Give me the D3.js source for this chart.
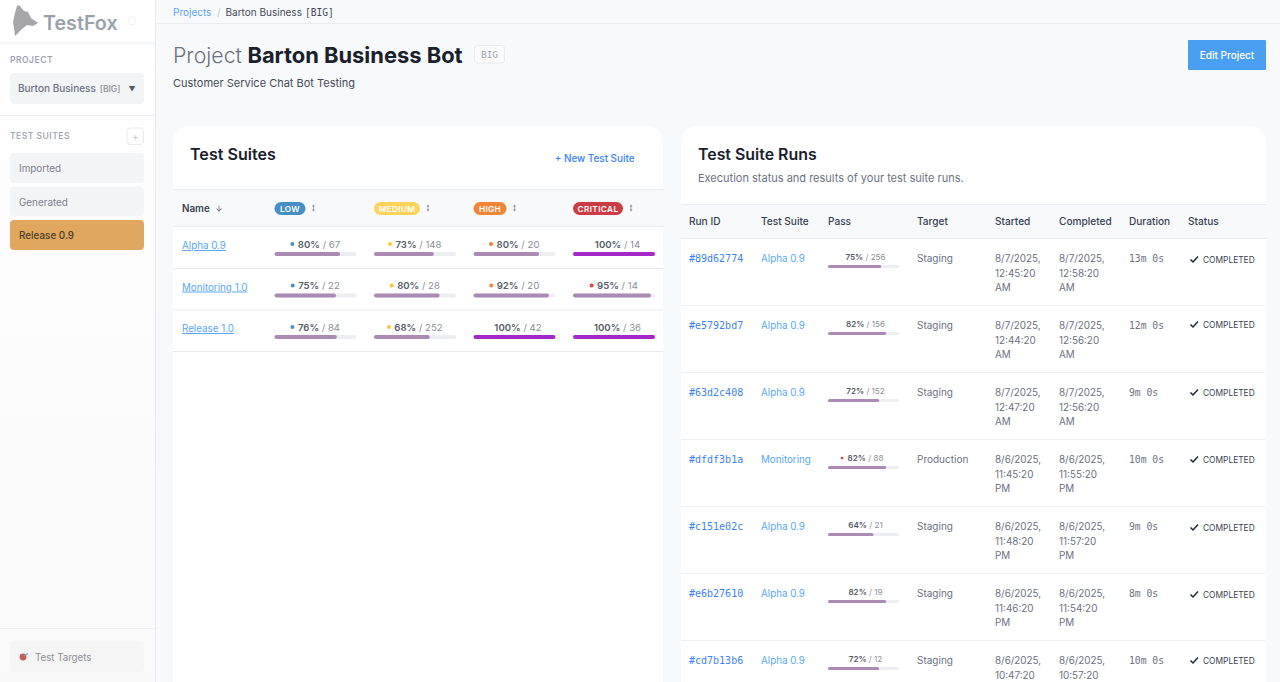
<!DOCTYPE html>
<html>
<head>
<meta charset="utf-8">
<script src="https://cdn.jsdelivr.net/npm/d3@7"></script>
<style>
html, body { margin: 0; padding: 0; background: #f8f9fb; overflow: hidden; }
svg { display: block; font-family: Inter, "Noto Sans", sans-serif; }
</style>
</head>
<body>
<svg width="1280" height="682"></svg>
<script>
// *** DATA ***
const sidebarSuites = ["Imported", "Generated", "Release 0.9"];
const severities = ["LOW", "MEDIUM", "HIGH", "CRITICAL"];
const suiteNames = ["Alpha 0.9", "Monitoring 1.0", "Release 1.0"];
const suitePass = [
    [80, 73, 80, 100],
    [75, 80, 92, 95],
    [76, 68, 100, 100]
];
const suiteTotals = [
    [67, 148, 20, 14],
    [22, 28, 20, 14],
    [84, 252, 42, 36]
];
const runHeaders = ["Run ID", "Test Suite", "Pass", "Target", "Started", "Completed", "Duration", "Status"];
const runIds = ["#89d62774", "#e5792bd7", "#63d2c408", "#dfdf3b1a", "#c151e02c", "#e6b27610", "#cd7b13b6"];
const runSuites = ["Alpha 0.9", "Alpha 0.9", "Alpha 0.9", "Monitoring", "Alpha 0.9", "Alpha 0.9", "Alpha 0.9"];
const runPass = [75, 82, 72, 82, 64, 82, 72];
const runTotals = [256, 156, 152, 88, 21, 19, 12];
const runTargets = ["Staging", "Staging", "Staging", "Production", "Staging", "Staging", "Staging"];
const runDates = ["8/7/2025,", "8/7/2025,", "8/7/2025,", "8/6/2025,", "8/6/2025,", "8/6/2025,", "8/6/2025,"];
const runStarted = ["12:45:20", "12:44:20", "12:47:20", "11:45:20", "11:48:20", "11:46:20", "10:47:20"];
const runCompleted = ["12:58:20", "12:56:20", "12:56:20", "11:55:20", "11:57:20", "11:54:20", "10:57:20"];
const runMeridiem = ["AM", "AM", "AM", "PM", "PM", "PM", "PM"];
const runDurations = ["13m 0s", "12m 0s", "9m 0s", "10m 0s", "9m 0s", "8m 0s", "10m 0s"];

// *** STYLE ***
const badgeColor = d3.scaleOrdinal(severities, ["#4790c4", "#fdd35c", "#f08536", "#cc3b44"]);
const dotColor = d3.scaleOrdinal(severities, ["#4790c4", "#fbc53c", "#f08536", "#e04848"]);
const blue = "#5aa7f5", linkBlue = "#3b82f6", ink = "#1a202c", grey = "#6b7280", line = "#e9ebef";
const sans = 'Inter, "Noto Sans", sans-serif', mono = '"DejaVu Sans Mono", monospace';
const statusNudge = [0, -2, -1, -1, 0, 0, -1]; // status cell sits a bit uneven per row

const svg = d3.select("svg");
const defs = svg.append("defs");
const fade = defs.append("linearGradient").attr("id", "fade").attr("x1", 0).attr("x2", 0).attr("y1", 0).attr("y2", 1);
fade.append("stop").attr("offset", 0).attr("stop-color", "#ffffff");
fade.append("stop").attr("offset", 1).attr("stop-color", "#f9f9fa");

function txt(parent, x, y, s, size, fill, opts = {}) {
    return parent.append("text")
        .attr("x", x).attr("y", y)
        .attr("font-size", size).attr("fill", fill)
        .attr("font-weight", opts.weight || 400)
        .attr("font-family", opts.family || sans)
        .attr("letter-spacing", opts.spacing || 0)
        .attr("text-anchor", opts.anchor || "start")
        .attr("text-decoration", opts.decoration || null)
        .text(s);
}

function rect(parent, x, y, w, h, r, fill, stroke) {
    return parent.append("rect")
        .attr("x", x).attr("y", y).attr("width", w).attr("height", h)
        .attr("rx", r).attr("fill", fill).attr("stroke", stroke || "none");
}

function hline(parent, x1, x2, y, color) {
    parent.append("line").attr("x1", x1).attr("x2", x2).attr("y1", y).attr("y2", y)
        .attr("stroke", color || line).attr("stroke-width", 1);
}

// small double headed sort arrow
function sortIcon(parent, x, y) {
    parent.append("path")
        .attr("d", `M${x} ${y - 3.5} l-1.6 2 h3.2 Z M${x} ${y + 3.5} l-1.6 -2 h3.2 Z M${x - 0.4} ${y - 1.5} h0.8 v3 h-0.8 Z`)
        .attr("fill", "#8b919b");
}

// pass cell: centred "80% / 67" label with optional dot, and progress bar under it
function passCell(parent, x0, y, w, pass, total, dot, size, barH, labelY, labelDx) {
    const scale = d3.scaleLinear().domain([0, 100]).range([0, w]);
    const g = parent.append("g");
    const cx = x0 + w / 2 + labelDx;
    const label = g.append("text")
        .attr("x", cx).attr("y", y + labelY)
        .attr("text-anchor", "middle").attr("font-size", size);
    label.append("tspan").attr("font-weight", 600).attr("fill", "#555b66").text(pass + "%");
    label.append("tspan").attr("fill", "#8a8f98").text(" / " + total);
    if (dot) {
        const len = label.node().getComputedTextLength();
        g.append("circle")
            .attr("cx", cx - len / 2 - 5.5)
            .attr("cy", y + labelY - size * 0.37)
            .attr("r", size > 9 ? 2 : 1.3).attr("fill", dot);
    }
    rect(g, x0, y, w, barH, barH / 2, "#eceef2");
    rect(g, x0, y, scale(pass), barH, barH / 2, pass === 100 ? "#a428c8" : "#ab8bb3");
}

// *** SIDEBAR ***
const side = svg.append("g");
rect(side, 0, 0, 155, 682, 0, "url(#fade)");
side.append("line").attr("x1", 155.5).attr("x2", 155.5).attr("y1", 0).attr("y2", 682).attr("stroke", "#e8eaee");
side.append("path")
    .attr("d", "M17 6 L19 5 L24 11 L28 12 L31 18 L38 23 L33 26 L27 25 L22 29 L15 36 L14 28 L13 22 L15 13 Z")
    .attr("fill", "#a6a6a8");
txt(side, 43, 29.5, "TestFox", 19.7, "#9aa1ab", { weight: 600 });
rect(side, 129, 17, 6, 8, 2, "none", "#f0f1f3");
hline(side, 0, 155, 43, "#eef0f2");
txt(side, 10, 63, "PROJECT", 8.5, "#9ca3af", { weight: 600, spacing: 0.5 });
rect(side, 10, 73, 134, 31, 4, "#f3f4f6");
const proj = txt(side, 18, 91.5, "Burton Business", 10, "#6b7280", { weight: 500 });
proj.append("tspan").attr("dx", 4).attr("font-size", 8.5).attr("fill", "#8a8f98").text("[BIG]");
txt(side, 132, 91.5, "▼", 7, "#555b66", { anchor: "middle" });
hline(side, 0, 155, 115.5, "#eceef0");
txt(side, 10, 139, "TEST SUITES", 8.5, "#a5abb5", { weight: 600, spacing: 0.5 });
rect(side, 127, 128, 16.5, 16.5, 3, "#ffffff", "#e8eaee");
txt(side, 135.3, 140.5, "+", 11, "#c9ccd2", { anchor: "middle" });
const sideY = d3.scalePoint().domain(sidebarSuites).range([153, 220]);
sidebarSuites.forEach((s, i) => {
    const active = i === sidebarSuites.length - 1;
    rect(side, 10, sideY(s), 134, 30, 4, active ? "#e1a75e" : "#f3f4f6");
    txt(side, 19, sideY(s) + 19, s, 9.9, active ? "#4a3d2a" : "#7b818c", { weight: active ? 500 : 400 });
});
hline(side, 0, 155, 628.5, "#eef0f2");
rect(side, 10, 641, 134, 31, 4, "#f5f5f6");
side.append("circle").attr("cx", 23).attr("cy", 657).attr("r", 3.4).attr("fill", "#c65a5a");
side.append("line").attr("x1", 24).attr("y1", 656).attr("x2", 28).attr("y2", 653.5).attr("stroke", "#6fa8b5").attr("stroke-width", 1.2);
txt(side, 35, 660.5, "Test Targets", 9.7, "#8f8f94", { weight: 400 });

// *** TOP BAR + TITLE ***
const header = svg.append("g");
rect(header, 156, 0, 1124, 23, 0, "#f8f9fb");
hline(header, 156, 1280, 23.5, "#e9ebef");
txt(header, 173, 15.5, "Projects", 10, blue);
txt(header, 217, 15.5, "/", 10, "#c4c8cf");
const crumb = txt(header, 225.5, 15.5, "Barton Business", 10, "#444b57", { weight: 400 });
crumb.append("tspan").attr("dx", 3).attr("font-family", mono).attr("font-size", 9.6).text("[BIG]");

const pageTitle = txt(header, 173, 63, "Project", 21.3, "#6b7280", { weight: 300 });
pageTitle.append("tspan").attr("dx", 5.5).attr("font-size", 21.9).attr("font-weight", 700).attr("fill", ink).text("Barton Business Bot");
rect(header, 474.5, 45.5, 30, 17.5, 3, "#fbfbfc", "#e9ebef");
txt(header, 489.5, 57.5, "BIG", 9.5, "#9ca3af", { family: mono, anchor: "middle" });
txt(header, 173, 87, "Customer Service Chat Bot Testing", 11, "#444b57");
rect(header, 1188, 40, 78, 30, 1, "#4a9ff2");
txt(header, 1227, 59, "Edit Project", 10, "#ffffff", { weight: 500, anchor: "middle" });

// *** TEST SUITES CARD ***
const leftCard = svg.append("g");
rect(leftCard, 173, 126, 490, 600, 16, "#ffffff");
txt(leftCard, 190, 159.5, "Test Suites", 16.1, ink, { weight: 600 });
txt(leftCard, 634.5, 161.5, "+ New Test Suite", 9.9, linkBlue, { weight: 500, anchor: "end" });
rect(leftCard, 173, 190, 490, 36.5, 0, "#f8f9fb");
hline(leftCard, 173, 663, 189.5);
hline(leftCard, 173, 663, 226.5);
txt(leftCard, 182, 212, "Name", 9.8, "#374151", { weight: 600 });
leftCard.append("path")
    .attr("d", "M218.6 205.5 h0.9 v4.5 l1.7 -1.7 l0.6 0.6 l-2.75 2.75 l-2.75 -2.75 l0.6 -0.6 l1.7 1.7 Z")
    .attr("fill", "#7b818c");

const colX = d3.scalePoint().domain(severities).range([274.5, 573]);
const rowY = d3.scalePoint().domain(suiteNames).range([227, 310]);
const badgeW = d3.scaleOrdinal(severities, [31, 46, 33, 50]);
severities.forEach(s => {
    const color = badgeColor(s);
    rect(leftCard, colX(s), 202, badgeW(s), 13, 6.5, color);
    txt(leftCard, colX(s) + badgeW(s) / 2, 212, s, 8.2, "#ffffff", { weight: 600, spacing: 0.4, anchor: "middle" });
    sortIcon(leftCard, colX(s) + badgeW(s) + 8, 208);
});
suiteNames.forEach((name, r) => {
    const y = rowY(name);
    txt(leftCard, 182, y + 22, name, 9.8, blue, { decoration: "underline" });
    hline(leftCard, 173, 663, y + 41.5);
    severities.forEach((s, c) => {
        const pass = suitePass[r][c];
        passCell(leftCard, colX(s), y + 25, 82, pass, suiteTotals[r][c], pass === 100 ? null : dotColor(s), 9.6, 4, -4.5, 3.5);
    });
});

// *** TEST SUITE RUNS CARD ***
const rightCard = svg.append("g");
rect(rightCard, 681, 126, 585, 600, 16, "#ffffff");
txt(rightCard, 698, 159.5, "Test Suite Runs", 15.9, ink, { weight: 600 });
txt(rightCard, 698, 182, "Execution status and results of your test suite runs.", 11, "#6b7280");
rect(rightCard, 681, 205, 585, 33, 0, "#f8f9fb");
hline(rightCard, 681, 1266, 204.5);
hline(rightCard, 681, 1266, 238.5);

const runCol = d3.scaleOrdinal(runHeaders, [689, 761, 828, 917, 995, 1059, 1129, 1188]);
runHeaders.forEach(h => txt(rightCard, runCol(h), 225, h, 10.1, "#374151", { weight: 500 }));

const runY = d3.scaleLinear().domain([0, 1]).range([239, 306]);
runIds.forEach((id, i) => {
    const y = runY(i);
    txt(rightCard, runCol("Run ID"), y + 23, id, 10, linkBlue, { family: mono });
    txt(rightCard, runCol("Test Suite"), y + 23, runSuites[i], 9.8, blue);
    passCell(rightCard, runCol("Pass"), y + 26, 71, runPass[i], runTotals[i], runSuites[i] === "Monitoring" ? "#d8343f" : null, 8.1, 3, -5, 2);
    txt(rightCard, runCol("Target"), y + 23, runTargets[i], 10, grey);
    [["Started", runStarted], ["Completed", runCompleted]].forEach(([h, times]) => {
        [runDates[i], times[i], runMeridiem[i]].forEach((s, k) => {
            const ly = y + 23 + k * 14.6;
            if (ly < 682) txt(rightCard, runCol(h), ly, s, 9.9, grey);
        });
    });
    txt(rightCard, runCol("Duration"), y + 23, runDurations[i], 9.7, grey, { family: mono });
    const sy = y + statusNudge[i];
    rightCard.append("path")
        .attr("d", `M1190.5 ${sy + 20.5} l2.5 2.5 l5 -5.5`)
        .attr("fill", "none").attr("stroke", "#1f2937").attr("stroke-width", 1.5);
    txt(rightCard, 1203, sy + 24, "COMPLETED", 8.4, "#374151", { weight: 400 });
    hline(rightCard, 681, 1266, y + 66.5, "#eef0f3");
});
</script>
</body>
</html>
